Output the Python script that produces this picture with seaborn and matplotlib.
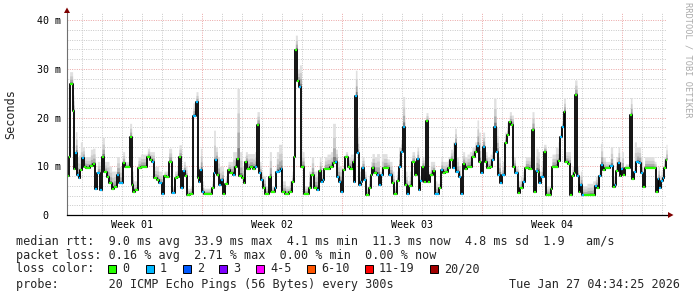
import numpy as np
import pandas as pd
import matplotlib
matplotlib.use("Agg")
import matplotlib.pyplot as plt
import seaborn as sns
from matplotlib.patches import Rectangle, Polygon

# ---------------- data ----------------
days = [0.00, 0.08, 0.13, 0.28, 0.35, 0.42, 0.50, 0.58, 0.67, 0.77, 0.87, 0.95, 1.17, 1.28, 1.40, 1.52, 1.65,
        1.75, 1.87, 1.98, 2.10, 2.23, 2.33, 2.48, 2.62, 2.78, 2.88, 3.13, 3.23, 3.32, 3.42, 3.55, 3.68, 4.02,
        4.13, 4.25, 4.37, 4.48, 4.58, 4.75, 4.85, 4.97, 5.08, 5.23, 5.38, 5.50, 5.60, 5.72, 5.82, 5.92,
        6.00, 6.17, 6.30, 6.45, 6.55, 6.62, 6.67, 6.75, 6.83, 7.25, 7.33, 7.42, 7.52, 7.62, 7.72, 7.82, 7.92,
        8.05, 8.17, 8.28, 8.38, 8.50, 8.62, 8.75, 8.85, 8.92, 9.02, 9.13, 9.28, 9.38, 9.50, 9.62, 9.70, 9.78,
        9.92, 10.12, 10.22, 10.38, 10.47, 10.58, 10.68, 10.75, 10.92, 11.12, 11.25, 11.35, 11.42, 11.52,
        11.62, 11.72, 11.85,
        12.08, 12.22, 12.33, 12.50, 12.62, 12.70, 12.78, 12.87, 13.00, 13.17, 13.28, 13.42, 13.52, 13.62,
        13.72, 13.82, 13.92, 14.03, 14.17, 14.28, 14.37, 14.42, 14.50, 14.58, 14.68, 14.75, 14.85, 14.95,
        15.08, 15.18, 15.25, 15.37, 15.48, 15.55, 15.62, 15.72, 15.82, 16.00, 16.12, 16.25, 16.35, 16.48,
        16.58, 16.68, 16.78, 16.88, 17.00, 17.12, 17.25, 17.38, 17.50, 17.58, 17.67, 17.75, 17.85,
        17.95, 18.05, 18.17, 18.28, 18.38, 18.50, 18.62, 18.70, 18.78, 18.92, 19.05, 19.17, 19.28, 19.38,
        19.47, 19.58, 19.68, 19.78, 19.88, 20.00, 20.12, 20.25, 20.38, 20.50, 20.58, 20.68, 20.78, 20.88,
        21.00, 21.15, 21.25, 21.33, 21.45, 21.55, 21.67, 21.75, 21.88, 22.00, 22.12, 22.22, 22.32, 22.42,
        22.55, 22.67, 22.78, 22.92, 23.08, 23.25, 23.35, 23.45, 23.55, 23.62, 23.72, 23.83, 23.95,
        24.18, 24.25, 24.42, 24.55, 24.67, 24.75, 24.83, 24.92, 25.05, 25.17, 25.25, 25.33, 25.38, 25.50,
        25.58, 25.67, 25.75, 25.83, 26.00, 26.12, 26.28, 26.42, 26.52, 26.62, 26.68, 26.78, 26.92, 27.05,
        27.17, 27.28, 27.38, 27.45, 27.55, 27.63, 27.72, 27.82, 27.92, 28.05, 28.17, 28.25, 28.37, 28.47,
        28.58, 28.68, 28.78, 28.88, 29.08, 29.35, 29.45, 29.55, 29.62, 29.70, 29.78, 29.85, 29.95]

median_ms = [7.9, 12.0, 26.9, 21.3, 9.4, 12.7, 8.3, 7.5, 9.2, 11.6, 9.9, 9.7, 10.1, 10.4, 5.3, 8.6, 5.1,
             12.0, 8.8, 7.7, 6.5, 5.3, 5.8, 8.3, 6.5, 10.6, 9.9, 15.9, 6.2, 4.8, 5.1, 9.6, 9.9, 12.0,
             11.3, 10.9, 7.5, 7.2, 6.5, 4.4, 7.9, 7.7, 10.9, 4.6, 7.5, 7.7, 11.8, 5.6, 9.0, 7.9,
             4.2, 4.4, 20.4, 23.1, 7.5, 6.8, 9.2, 4.8, 4.4, 5.5, 8.6, 11.2, 8.2, 6.2, 7.2, 4.4, 6.3,
             9.2, 8.6, 8.3, 9.9, 11.5, 7.9, 7.5, 6.5, 10.9, 9.4, 9.9, 9.4, 9.9, 18.5, 8.6, 7.2, 5.6,
             4.4, 7.7, 4.7, 5.5, 8.9, 9.0, 9.4, 4.7, 4.4, 4.8, 6.8, 12.0, 33.9, 27.4,
             26.3, 9.9, 4.4,
             5.5, 8.3, 5.6, 5.1, 9.0, 6.8, 7.2, 9.4, 9.4, 9.9, 10.7, 10.9, 7.7, 6.8,
             4.8, 9.2, 11.8, 9.9, 9.4, 10.9, 6.8, 24.5, 12.7, 6.2, 6.8, 9.7, 7.2, 4.1,
             5.5, 8.2, 9.7, 8.6, 8.2, 8.2, 6.2, 8.2, 9.7, 9.7, 8.3, 6.5, 4.4, 7.0,
             9.9, 12.9, 18.1, 6.2, 4.4, 6.0, 10.9, 8.3, 11.5, 5.1, 7.0, 9.9, 6.8,
             19.2, 6.8, 8.3, 9.0, 4.4, 4.4, 5.5, 9.2, 8.6, 8.9, 9.7, 11.3, 9.6, 14.5,
             8.9, 7.7, 4.4, 10.5, 9.4, 9.9, 9.9, 12.0, 12.9, 14.2, 10.9, 8.6, 14.0, 10.9,
             9.6, 9.9, 11.2, 18.1, 13.0, 8.3, 6.5, 8.2, 14.7, 16.4, 19.0, 18.5, 9.9, 8.6,
             4.6, 5.5, 6.8, 9.7, 9.4, 17.4, 4.7, 9.0, 8.9, 6.5, 7.7, 13.0, 4.2,
             5.3, 9.9, 9.9, 11.1, 16.1, 18.1, 21.1, 10.9, 10.4, 4.1, 8.1, 8.6, 24.6, 7.9,
             4.7, 6.2, 4.2, 4.1, 4.1, 4.2, 4.1, 6.0, 5.6, 8.1, 10.3, 9.2, 9.6, 9.7,
             10.1, 5.8, 6.2, 9.0, 10.6, 7.9, 9.4, 8.2, 9.7, 9.7, 20.5, 7.4, 8.8, 10.9,
             10.6, 8.6, 5.8, 9.7, 9.7, 9.7, 4.7, 7.4, 5.6, 7.0, 7.5, 9.6, 11.3]

smoke_top_ms = [9.5, 13.0, 29.4, 24.6, 11.0, 17.1, 12.0, 12.3, 15.0, 14.0, 12.0, 12.0, 13.5, 13.7, 7.0, 11.0, 7.0,
                15.9, 11.0, 11.0, 10.0, 9.0, 9.0, 12.0, 10.0, 13.0, 11.0, 18.8, 9.0, 7.0, 7.0, 12.0, 12.5, 13.7,
                13.0, 13.0, 10.0, 10.0, 9.0, 6.0, 9.0, 9.0, 13.7, 6.0, 9.0, 10.0, 14.4, 8.0, 11.0, 10.0,
                5.5, 6.0, 23.0, 25.3, 10.0, 9.0, 13.7, 7.0, 5.5, 7.0, 17.4, 14.0, 12.0, 10.0, 10.0, 6.0, 8.0,
                11.0, 11.0, 13.0, 13.0, 26.0, 13.0, 10.0, 9.0, 13.0, 12.6, 12.6, 12.6, 13.0, 21.2, 11.0, 9.0, 8.0,
                6.0, 13.0, 6.0, 8.0, 13.0, 14.5, 14.5, 7.0, 6.0, 7.0, 9.0, 13.0, 36.9, 30.0,
                30.8, 13.0, 6.0,
                9.0, 12.0, 9.0, 8.0, 12.0, 9.0, 9.0, 12.0, 12.5, 13.0, 18.8, 13.5, 11.0, 10.0,
                7.0, 11.0, 13.0, 12.0, 12.5, 12.5, 9.0, 29.7, 18.0, 9.0, 9.0, 12.0, 9.0, 6.0,
                8.0, 11.0, 12.6, 12.0, 12.6, 12.6, 9.0, 12.6, 12.6, 11.5, 11.0, 9.0, 6.0, 9.0,
                14.0, 15.5, 24.3, 9.0, 7.0, 9.0, 13.0, 11.0, 14.0, 8.0, 9.0, 12.0, 9.0,
                21.0, 9.0, 11.0, 11.0, 7.0, 6.5, 8.0, 12.0, 11.0, 11.0, 12.0, 13.5, 15.0, 17.8,
                12.0, 10.0, 7.0, 13.0, 12.0, 12.5, 13.0, 14.0, 15.0, 19.5, 17.0, 11.0, 17.0, 13.0,
                12.0, 12.5, 14.0, 23.9, 18.0, 12.0, 9.0, 11.0, 17.0, 19.0, 21.2, 20.5, 12.0, 10.0,
                7.0, 8.0, 9.0, 12.0, 12.0, 21.2, 8.0, 13.7, 13.0, 9.0, 11.0, 14.5, 6.0,
                7.0, 12.5, 14.0, 15.0, 18.0, 20.0, 23.9, 13.0, 13.0, 6.0, 10.0, 10.0, 27.7, 10.0,
                8.0, 9.0, 6.0, 6.0, 6.5, 6.5, 7.0, 8.0, 8.0, 10.0, 14.7, 12.0, 11.0, 11.0,
                14.0, 8.0, 8.0, 12.0, 14.0, 11.0, 13.0, 10.0, 10.5, 10.5, 24.1, 9.0, 15.0, 14.0,
                14.0, 12.0, 8.0, 12.0, 12.0, 11.0, 8.0, 10.0, 8.0, 9.0, 9.0, 12.0, 14.5]

lost_pings = [0, 0, 0, 0, 0, 1, 1, 1, 0, 1, 0, 0, 0, 0, 1, 1, 1,
              0, 0, 0, 0, 0, 0, 1, 1, 0, 0, 0, 0, 0, 0, 0, 0, 0,
              0, 1, 0, 0, 1, 1, 0, 0, 0, 1, 0, 0, 0, 1, 1, 0,
              0, 0, 1, 1, 0, 1, 1, 1, 0, 0, 1, 1, 0, 1, 1, 0, 0,
              0, 0, 1, 0, 0, 0, 0, 0, 0, 0, 0, 0, 1, 0, 1, 1, 0,
              0, 0, 0, 1, 1, 1, 1, 0, 0, 0, 0, 0, 0, 0,
              1, 0, 0,
              0, 0, 0, 1, 0, 1, 1, 0, 0, 0, 0, 1, 1, 1,
              1, 0, 0, 0, 0, 0, 1, 1, 1, 1, 1, 1, 1, 0,
              0, 0, 0, 0, 1, 1, 1, 1, 0, 0, 1, 0, 0, 0,
              1, 1, 1, 0, 1, 0, 0, 0, 1, 1, 1, 0, 0,
              0, 0, 0, 0, 1, 1, 0, 1, 0, 0, 0, 0, 1, 1,
              1, 1, 1, 0, 0, 0, 0, 0, 0, 1, 0, 1, 1, 0,
              0, 0, 1, 1, 1, 1, 1, 1, 0, 0, 0, 0, 0, 1,
              0, 0, 1, 0, 0, 0, 0, 1, 0, 1, 1, 0, 0,
              0, 0, 0, 0, 1, 1, 0, 0, 0, 0, 0, 0, 0, 1,
              0, 1, 1, 0, 0, 0, 0, 1, 0, 1, 1, 0, 0, 0,
              1, 0, 1, 0, 1, 0, 1, 0, 0, 0, 0, 0, 1, 1,
              1, 1, 0, 0, 0, 0, 0, 1, 1, 1, 1, 0, 0]

x_end_day = 30.0
week_starts = [-0.25, 6.75, 13.75, 20.75, 27.75]
week_labels = ["Week 01", "Week 02", "Week 03", "Week 04"]
ytick_values = [0, 10, 20, 30, 40]
ytick_labels = ["0  ", "10 m", "20 m", "30 m", "40 m"]

loss_names = ["0", "1", "2", "3", "4-5", "6-10", "11-19", "20/20"]
loss_colors = ["#26ff00", "#00b8ff", "#0059ff", "#7e00ff", "#ff00ff", "#ff5500", "#ff0000", "#a10000"]

line_rtt = "median rtt:  9.0 ms avg  33.9 ms max  4.1 ms min  11.3 ms now  4.8 ms sd  1.9   am/s"
line_loss = "packet loss: 0.16 % avg  2.71 % max  0.00 % min  0.00 % now"
line_probe = "probe:       20 ICMP Echo Pings (56 Bytes) every 300s"
stamp = "Tue Jan 27 04:34:25 2026"

# ---------------- drawing ----------------
sns.set_style("white")
MONO = ["DejaVu Sans Mono"]
plt.rcParams["font.family"] = MONO

W, H = 697, 297
def fx(px):
    return px / W
def fy(py):
    return 1 - py / H

fig = plt.figure(figsize=(W / 100, H / 100), dpi=100)
fig.patch.set_facecolor("white")
ax = fig.add_axes([fx(67), fy(215), 600 / W, 202 / H])
ax.set_facecolor("white")
ax.set_xlim(0, x_end_day)
ax.set_ylim(0, 202 / 4.875)

minor_c = "#c8c8c8"
major_c = "#eaa4a4"
dot = (0, (1, 1.4))
grid_days = np.arange(week_starts[0] + 1, x_end_day, 1.0)
for d in grid_days:
    is_major = any(abs(d - w) < 1e-6 for w in week_starts)
    ax.axvline(d, color=major_c if is_major else minor_c, lw=0.7, ls=dot, zorder=1)
for v in range(2, 41, 2):
    ax.axhline(v, color=major_c if v % 10 == 0 else minor_c, lw=0.7, ls=dot, zorder=1)

d_arr = np.array(days)
m_arr = np.array(median_ms)
t_arr = np.array(smoke_top_ms)
d_ext = np.append(d_arr, x_end_day)
m_ext = np.append(m_arr, m_arr[-1])
t_ext = np.append(t_arr, t_arr[-1])

smoke_layers = [(1.0, "#e0e0e0"), (0.65, "#cccccc"), (0.38, "#ababab"), (0.16, "#7c7c7c")]
for frac, col in smoke_layers:
    ax.fill_between(d_ext, m_ext, m_ext + frac * (t_ext - m_ext), step="post",
                    color=col, lw=0, zorder=2)

df = pd.DataFrame({"day": d_ext, "median": m_ext})
sns.lineplot(data=df, x="day", y="median", drawstyle="steps-post", color="#000000",
             lw=1.3, ax=ax, estimator=None, zorder=3)

seg_colors = [loss_colors[l] for l in lost_pings]
ax.hlines(m_arr, d_arr, np.append(d_arr[1:], x_end_day), colors=seg_colors, lw=1.6, zorder=4)

for s in ["top", "right"]:
    ax.spines[s].set_visible(False)
ax.spines["left"].set_color("#707070")
ax.spines["left"].set_linewidth(0.8)
ax.spines["bottom"].set_color("#000000")
ax.spines["bottom"].set_linewidth(0.9)
for s in ["left", "bottom"]:
    ax.spines[s].set_zorder(5)

ax.set_yticks(ytick_values)
ax.set_yticklabels(ytick_labels)
week_centers = [(week_starts[i] + week_starts[i + 1]) / 2 for i in range(len(week_labels))]
ax.set_xticks(week_centers)
ax.set_xticklabels(week_labels)
ax.tick_params(axis="both", length=0, labelsize=7.2, colors="black")
ax.tick_params(axis="y", pad=4.5)
ax.tick_params(axis="x", pad=3.5)
ax.set_xlabel("")
ax.set_ylabel("")

# arrows
arrow_c = "#7f0000"
fig.add_artist(Polygon([[fx(64), fy(13)], [fx(70), fy(13)], [fx(67), fy(7.5)]],
                       closed=True, transform=fig.transFigure, color=arrow_c, lw=0))
fig.add_artist(Polygon([[fx(668), fy(212)], [fx(668), fy(218)], [fx(673.5), fy(215)]],
                       closed=True, transform=fig.transFigure, color=arrow_c, lw=0))

# labels
fig.text(fx(11), fy(114), "Seconds", rotation=90, ha="center", va="center", fontsize=8.5)
fig.text(fx(688), fy(60), "RRDTOOL / TOBI OETIKER", rotation=270, ha="center", va="center",
         fontsize=6.2, color="#aaaaaa")

# legend block
fs = 8.5
fig.text(fx(16), fy(245), line_rtt, ha="left", va="baseline", fontsize=fs)
fig.text(fx(16), fy(259), line_loss, ha="left", va="baseline", fontsize=fs)
fig.text(fx(16), fy(272.3), "loss color:", ha="left", va="baseline", fontsize=fs)
box_left = [108, 146, 183, 219, 256, 307, 365, 430]
for bx, name, col in zip(box_left, loss_names, loss_colors):
    fig.add_artist(Rectangle((fx(bx), fy(273)), 8 / W, 8 / H, transform=fig.transFigure,
                             facecolor=col, edgecolor="black", lw=0.7))
    fig.text(fx(bx + 14), fy(272.3), name, ha="left", va="baseline", fontsize=fs)
fig.text(fx(16), fy(287.7), line_probe, ha="left", va="baseline", fontsize=fs)
fig.text(fx(680), fy(287.7), stamp, ha="right", va="baseline", fontsize=fs)

fig.savefig("out.png", dpi=100, facecolor="white")
